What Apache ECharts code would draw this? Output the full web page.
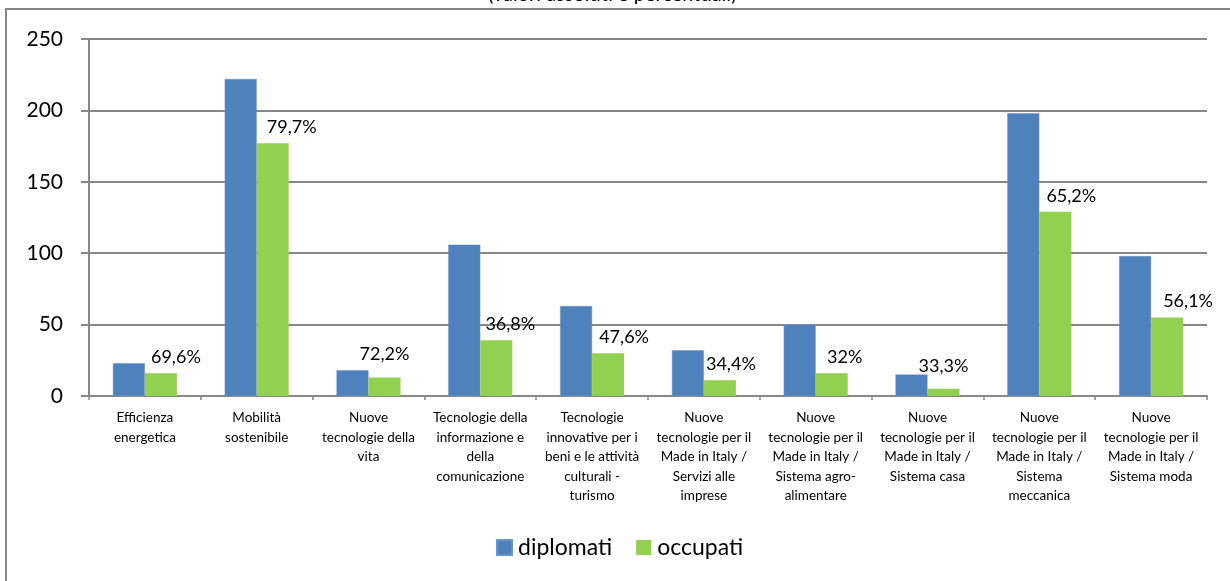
<!DOCTYPE html>
<html>
<head>
<meta charset="utf-8">
<script src="https://cdn.jsdelivr.net/npm/echarts@6/dist/echarts.min.js"></script>
<style>
  html, body { margin: 0; padding: 0; background: #fff; }
  #chart { width: 1230px; height: 581px; }
</style>
</head>
<body>
<div id="chart"></div>
<script>
// Categorie (aree tecnologiche), con gli a capo come nelle etichette dell'asse
const categorie = [
  'Efficienza\nenergetica',
  'Mobilità\nsostenibile',
  'Nuove\ntecnologie della\nvita',
  'Tecnologie della\ninformazione e\ndella\ncomunicazione',
  'Tecnologie\ninnovative per i\nbeni e le attività\nculturali -\nturismo',
  'Nuove\ntecnologie per il\nMade in Italy /\nServizi alle\nimprese',
  'Nuove\ntecnologie per il\nMade in Italy /\nSistema agro-\nalimentare',
  'Nuove\ntecnologie per il\nMade in Italy /\nSistema casa',
  'Nuove\ntecnologie per il\nMade in Italy /\nSistema\nmeccanica',
  'Nuove\ntecnologie per il\nMade in Italy /\nSistema moda'
];

// Valori assoluti
const diplomati = [23, 222, 18, 106, 63, 32, 50, 15, 198, 98];
const occupati  = [16, 177, 13, 39, 30, 11, 16, 5, 129, 55];

// Quota di occupati sui diplomati (%)
const percentuali = [69.6, 79.7, 72.2, 36.8, 47.6, 34.4, 32, 33.3, 65.2, 56.1];

// Tacche dell'asse verticale
const yTicks = { min: 0, max: 250, step: 50 };

// Spostamenti delle etichette percentuali rispetto alla cima della barra
const labelNudge = [[15, 0], [19, 0], [0, -7], [14, 0], [16, 0], [11, 0], [13, 0], [0, -7], [16, 0], [21, 0]];

const FONT = 'Lato, "Open Sans", sans-serif';
const GREY = '#878787';

const fmtPct = v => String(v).replace('.', ',') + '%';

const chart = echarts.init(document.getElementById('chart'), null, { renderer: 'canvas' });

chart.setOption({
  backgroundColor: '#ffffff',
  animation: false,
  textStyle: { fontFamily: FONT },
  title: {
    text: '(valori assoluti e percentuali)',
    left: 488,
    top: -15,
    padding: 0,
    textStyle: { fontFamily: FONT, fontSize: 20, fontWeight: 'normal', color: '#000' }
  },
  graphic: [{
    type: 'rect',
    shape: { x: 6, y: 9, width: 1300, height: 700 },
    style: { fill: 'none', stroke: '#868686', lineWidth: 2 },
    silent: true,
    z: -1
  }],
  legend: {
    data: ['diplomati', 'occupati'],
    left: 491,
    top: 531,
    itemWidth: 15,
    itemHeight: 15,
    itemGap: 24,
    icon: 'rect',
    textStyle: { fontFamily: FONT, fontSize: 23, color: '#000', padding: [0, 0, 0, 1] }
  },
  grid: { left: 89, right: 23, top: 39, bottom: 185, containLabel: false },
  xAxis: {
    type: 'category',
    data: categorie,
    boundaryGap: true,
    axisLine: { lineStyle: { color: GREY, width: 2 } },
    axisTick: { show: true, length: 4, lineStyle: { color: GREY, width: 1.5 } },
    axisLabel: {
      interval: 0,
      margin: 12,
      fontFamily: FONT,
      fontSize: 13.5,
      lineHeight: 19.5,
      color: '#000',
      align: 'center'
    }
  },
  yAxis: {
    type: 'value',
    min: yTicks.min,
    max: yTicks.max,
    interval: yTicks.step,
    axisLine: { show: true, lineStyle: { color: GREY, width: 2 } },
    axisTick: { show: true, length: 8, lineStyle: { color: GREY, width: 2 } },
    splitLine: { show: true, lineStyle: { color: GREY, width: 2 } },
    axisLabel: { fontFamily: FONT, fontSize: 21, color: '#000', margin: 26 }
  },
  series: [
    {
      name: 'diplomati',
      type: 'bar',
      data: diplomati,
      barWidth: 32,
      barGap: '0%',
      itemStyle: { color: '#4F81BD', borderColor: '#6a96cb', borderWidth: 0.5 }
    },
    {
      name: 'occupati',
      type: 'bar',
      data: occupati.map((v, i) => ({
        value: v,
        label: { offset: labelNudge[i] }
      })),
      barWidth: 32,
      barGap: '0%',
      itemStyle: { color: '#92D050' },
      label: {
        show: true,
        position: 'top',
        distance: 7,
        fontFamily: FONT,
        fontSize: 18,
        color: '#000',
        formatter: p => fmtPct(percentuali[p.dataIndex])
      }
    }
  ]
});
</script>
</body>
</html>
